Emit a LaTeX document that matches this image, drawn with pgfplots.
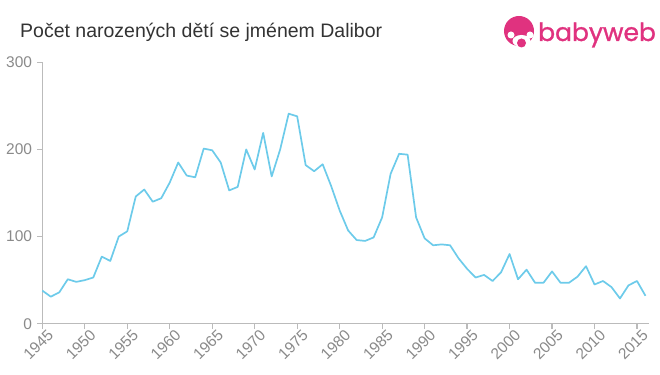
\documentclass[border=0pt]{standalone}
\usepackage{pgfplots}
\pgfplotsset{compat=1.18}
\usepackage{fontspec}
\setmainfont{Liberation Sans}
\newfontfamily\logofont[FakeBold=1.2]{Poppins}
\definecolor{linec}{HTML}{6DCBEA}
\definecolor{axc}{HTML}{BBBBBB}
\definecolor{tickc}{HTML}{8A8A8A}
\definecolor{titlec}{HTML}{333333}
\definecolor{pinkc}{HTML}{E0327F}
\pgfplotstableread{
year value
1945 38
1946 31
1947 36
1948 51
1949 48
1950 50
1951 53
1952 77
1953 72
1954 100
1955 106
1956 146
1957 154
1958 140
1959 144
1960 162
1961 185
1962 170
1963 168
1964 201
1965 199
1966 185
1967 153
1968 157
1969 200
1970 177
1971 219
1972 169
1973 200
1974 241
1975 238
1976 182
1977 175
1978 183
1979 158
1980 130
1981 107
1982 96
1983 95
1984 99
1985 122
1986 172
1987 195
1988 194
1989 122
1990 98
1991 90
1992 91
1993 90
1994 75
1995 63
1996 53
1997 56
1998 49
1999 59
2000 80
2001 51
2002 62
2003 47
2004 47
2005 60
2006 47
2007 47
2008 54
2009 66
2010 45
2011 49
2012 42
2013 29
2014 44
2015 49
2016 32
}\datatable
\begin{document}
\begin{tikzpicture}
\path[use as bounding box] (0,0) rectangle (660bp,375bp);
\begin{axis}[
  at={(42.3bp,51.3bp)}, anchor=south west,
  scale only axis,
  width=607bp, height=261.4bp,
  xmin=1945, xmax=2016.45,
  ymin=0, ymax=300,
  axis x line=bottom, axis y line=left,
  axis line style={-, draw=axc, line width=1.4bp},
  xtick={1945,1950,...,2015},
  ytick={0,100,200,300},
  tick align=outside,
  major tick length=5bp,
  tick style={draw=axc, line width=1.2bp},
  /pgf/number format/assume math mode=true,
  /pgf/number format/1000 sep={},
  ticklabel style={font=\fontsize{15.5bp}{18bp}\selectfont, text=tickc},
  xticklabel style={rotate=45, anchor=north east, inner sep=0.5bp, xshift=4bp, yshift=-2bp},
  yticklabel style={inner sep=2bp, xshift=-3bp},
  clip=false,
]
\addplot[color=linec, line width=1.7bp, line join=round, mark=none] table[x=year, y=value] {\datatable};
\end{axis}
\node[anchor=base west, text=titlec, font=\fontsize{19.5bp}{23bp}\selectfont, inner sep=0] at (20bp,337bp) {Počet narozených dětí se jménem Dalibor};
% logo
\fill[pinkc] (519bp,344bp) circle (15bp);
\fill[white] (521.5bp,334bp) ellipse (9bp and 6bp);
\fill[white] (511bp,340bp) circle (3.5bp);
\fill[white] (530bp,340bp) circle (3.5bp);
\fill[pinkc] (521.5bp,332bp) circle (4.5bp);
\node[anchor=base west, text=pinkc, font=\logofont\fontsize{25bp}{28bp}\selectfont, inner sep=0] at (538bp,334bp) {babyweb};
\end{tikzpicture}
\end{document}
